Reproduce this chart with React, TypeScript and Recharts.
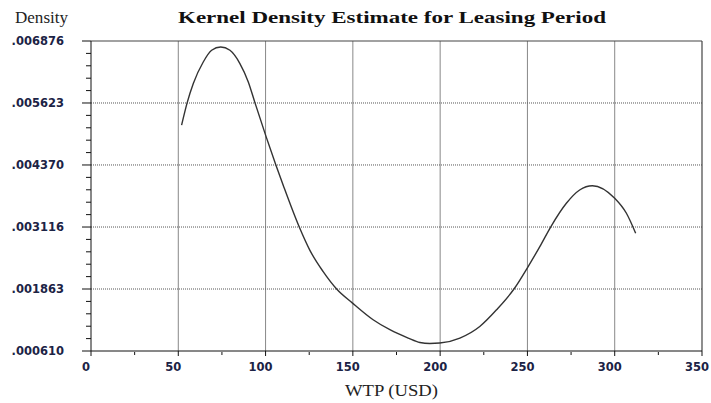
import { LineChart, Line, XAxis, YAxis, ReferenceLine } from "recharts";

// WTP (USD) positions and kernel density
const wtp = [51.9, 55.1, 58.6, 64.3, 69.1, 74.3, 79.6, 85.3, 90.1, 93.9, 100.2, 105.9, 110.1, 119.3, 125.4, 133.0, 140.7, 149.8, 161.6, 171.2, 181.7, 188.4, 194.1, 199.8, 211.3, 222.7, 232.3, 242.3, 250.4, 257.1, 263.3, 272.3, 279.9, 287.2, 300, 306.7, 312];
const density = [0.005175, 0.00563, 0.006017, 0.006452, 0.006688, 0.006755, 0.006688, 0.00642, 0.006049, 0.00563, 0.004953, 0.00437, 0.003961, 0.003116, 0.002644, 0.002214, 0.001863, 0.001578, 0.001241, 0.00104, 0.000872, 0.000783, 0.000763, 0.000771, 0.000872, 0.001106, 0.001443, 0.001863, 0.002317, 0.00272, 0.003116, 0.003596, 0.003864, 0.003951, 0.003697, 0.003394, 0.00299];

const xMajor = [0, 50, 100, 150, 200, 250, 300, 350];
const xMinor = [25, 75, 125, 175, 225, 275, 325];
const yMajor = [0.00061, 0.001863, 0.003116, 0.00437, 0.005623, 0.006876];

const data = wtp.map((x, i) => ({ x, d: density[i] }));

// 4 minor ticks between each pair of labelled ticks
const yTicks: number[] = [];
yMajor.forEach((m, i) => {
  yTicks.push(m);
  if (i < yMajor.length - 1) {
    const step = (yMajor[i + 1] - m) / 5;
    for (let k = 1; k < 5; k++) yTicks.push(m + step * k);
  }
});
const xTicks = [...xMajor, ...xMinor].sort((a, b) => a - b);

const isYMajor = (v: number) => yMajor.some((m) => Math.abs(m - v) < 1e-9);
const labelColor = "#1c2345";
const tickFont = "'DejaVu Sans', sans-serif";

function XTick(props: any) {
  const { x, y, payload } = props;
  const major = xMajor.includes(payload.value);
  return (
    <g>
      <line x1={x} x2={x} y1={y + (major ? 0 : 1)} y2={y + (major ? 5 : 4)} stroke="#111" strokeWidth={1} />
      {major && (
        <text x={x - 5} y={y + 20} textAnchor="middle" fontFamily={tickFont} fontWeight="bold" fontSize={11.5} fill={labelColor}>
          {payload.value}
        </text>
      )}
    </g>
  );
}

function YTick(props: any) {
  const { x, y, payload } = props;
  const major = isYMajor(payload.value);
  return (
    <g>
      <line x1={x - (major ? 9 : 5)} x2={x} y1={y} y2={y} stroke="#111" strokeWidth={1} />
      {major && (
        <text x={x - 27} y={y + 4} textAnchor="end" fontFamily={tickFont} fontWeight="bold" fontSize={11.5} fill={labelColor}>
          {payload.value.toFixed(6).replace(/^0/, "")}
        </text>
      )}
    </g>
  );
}

export default function App() {
  return (
    <div style={{ position: "fixed", left: 0, top: 0, width: 711, height: 403, background: "#fff" }}>
      <LineChart width={711} height={403} data={data} margin={{ top: 41, right: 9, bottom: 0, left: 0 }}>
        <XAxis
          dataKey="x"
          type="number"
          domain={[0, 350]}
          ticks={xTicks}
          interval={0}
          tickSize={0}
          tickMargin={0}
          tickLine={false}
          tick={<XTick />}
          axisLine={{ stroke: "#111" }}
          height={52}
        />
        <YAxis
          type="number"
          domain={[0.00061, 0.006876]}
          ticks={yTicks}
          interval={0}
          tickSize={0}
          tickMargin={0}
          tickLine={false}
          tick={<YTick />}
          axisLine={{ stroke: "#111" }}
          width={91}
        />
        {xMajor.slice(1, -1).map((v) => (
          <ReferenceLine key={"vx" + v} x={v} stroke="#888" strokeWidth={1} />
        ))}
        {yMajor.slice(1, -1).map((v) => (
          <ReferenceLine key={"hy" + v} y={v} stroke="#555" strokeDasharray="1 1" strokeWidth={1} />
        ))}
        <ReferenceLine y={0.006876} stroke="#444" strokeWidth={1.2} />
        <ReferenceLine x={350} stroke="#444" strokeWidth={1.2} />
        <Line type="monotone" dataKey="d" stroke="#333" strokeWidth={1.4} dot={false} isAnimationActive={false} />
      </LineChart>
      <svg width={711} height={403} style={{ position: "absolute", left: 0, top: 0, pointerEvents: "none" }}>
        <text x={15} y={23} fontFamily="'Liberation Serif', serif" fontSize={16} fill="#222" textLength={53} lengthAdjust="spacingAndGlyphs">
          Density
        </text>
        <text x={178} y={23} fontFamily="'Liberation Serif', serif" fontWeight="bold" fontSize={17} fill="#111" textLength={428} lengthAdjust="spacingAndGlyphs">
          Kernel Density Estimate for Leasing Period
        </text>
        <text x={345} y={396} fontFamily="'Liberation Serif', serif" fontSize={16} fill="#222" textLength={93} lengthAdjust="spacingAndGlyphs">
          WTP (USD)
        </text>
      </svg>
    </div>
  );
}
